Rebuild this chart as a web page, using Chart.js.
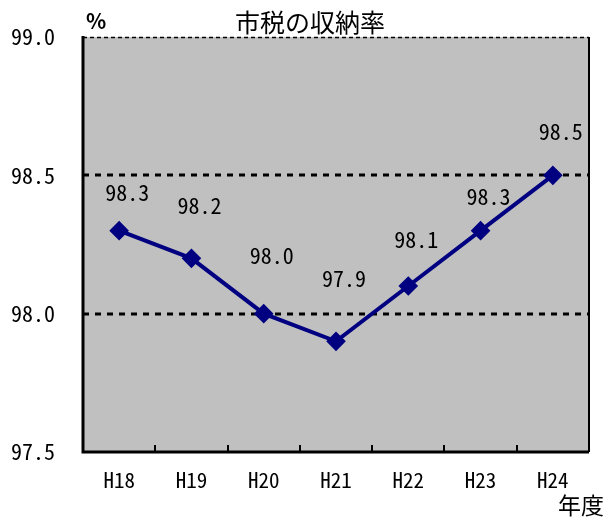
<!DOCTYPE html>
<html>
<head>
<meta charset="utf-8">
<script src="https://cdn.jsdelivr.net/npm/chart.js@4/dist/chart.umd.min.js"></script>
<style>
  html, body { margin: 0; padding: 0; background: #fff; }
  #wrap { width: 605px; height: 517px; }
</style>
</head>
<body>
<div id="wrap"><canvas id="c" width="605" height="517"></canvas></div>
<script>
// 市税の収納率（年度別）
const years = ['H18', 'H19', 'H20', 'H21', 'H22', 'H23', 'H24'];
const rates = [98.3, 98.2, 98.0, 97.9, 98.1, 98.3, 98.5];
const yTicks = [97.5, 98.0, 98.5, 99.0];

const MONO = '"Noto Sans Mono CJK JP", "DejaVu Sans Mono", monospace';
const FONT = '"Noto Sans CJK JP", "Noto Sans", sans-serif';
// vertical lift of each value label above its marker
const labelLift = [38, 53, 58, 63, 46, 34, 44];

const frame = {
  id: 'frame',
  beforeDatasetsDraw(chart) {
    const { ctx, chartArea: a, scales: { y } } = chart;
    ctx.save();
    ctx.fillStyle = '#c0c0c0';
    ctx.fillRect(a.left, a.top, a.right - a.left, a.bottom - a.top);
    // dashed gridlines
    ctx.strokeStyle = '#000';
    yTicks.forEach(v => {
      if (v === yTicks[0]) return;
      const top = v === yTicks[yTicks.length - 1];
      const py = Math.round(y.getPixelForValue(v)) + (top ? 0.5 : 0);
      ctx.lineWidth = top ? 1.5 : 3;
      ctx.setLineDash(top ? [4, 3] : [6, 6]);
      ctx.beginPath();
      ctx.moveTo(a.left, py);
      ctx.lineTo(a.right, py);
      ctx.stroke();
    });
    ctx.setLineDash([]);
    // right border
    ctx.lineWidth = 2;
    ctx.beginPath();
    ctx.moveTo(a.right, a.top);
    ctx.lineTo(a.right, a.bottom);
    ctx.stroke();
    // left border and x axis
    ctx.lineWidth = 3;
    ctx.beginPath();
    ctx.moveTo(a.left, a.top - 1);
    ctx.lineTo(a.left, a.bottom);
    ctx.lineTo(a.right, a.bottom);
    ctx.stroke();
    // category boundary ticks
    ctx.lineWidth = 2;
    const step = (a.right - a.left) / years.length;
    for (let i = 1; i < years.length; i++) {
      const px = Math.round(a.left + step * i);
      ctx.beginPath();
      ctx.moveTo(px, a.bottom);
      ctx.lineTo(px, a.bottom - 7);
      ctx.stroke();
    }
    ctx.restore();
  },
  afterDatasetsDraw(chart) {
    const { ctx, scales: { x, y } } = chart;
    ctx.save();
    ctx.fillStyle = '#000';
    ctx.textAlign = 'center';
    ctx.textBaseline = 'middle';
    ctx.font = '22px ' + MONO;
    rates.forEach((v, i) => {
      const px = x.getPixelForValue(i) + 8;
      const py = y.getPixelForValue(v) - labelLift[i];
      ctx.fillText(v.toFixed(1), px, py);
    });
    // title and unit captions
    ctx.font = '25px ' + FONT;
    ctx.fillText('市税の収納率', 310, 22);
    ctx.font = 'bold 21px ' + FONT;
    ctx.fillText('%', 96, 21);
    ctx.font = '23px ' + FONT;
    ctx.fillText('年度', 581, 505);
    ctx.restore();
  }
};

new Chart(document.getElementById('c'), {
  type: 'line',
  data: {
    labels: years,
    datasets: [{
      data: rates,
      borderColor: '#000080',
      backgroundColor: '#000080',
      borderWidth: 4,
      pointStyle: 'rectRot',
      pointRadius: 7,
      pointHoverRadius: 7,
      tension: 0
    }]
  },
  options: {
    responsive: false,
    animation: false,
    events: [],
    layout: { autoPadding: false, padding: { top: 37, right: 16, bottom: 0, left: 0 } },
    plugins: { legend: { display: false }, title: { display: false }, tooltip: { enabled: false } },
    scales: {
      x: {
        offset: true,
        grid: { display: false, drawTicks: false },
        border: { display: false },
        ticks: { color: '#000', padding: 15, font: { family: MONO, size: 21 } },
        afterFit(s) { s.height = 65; s.paddingLeft = 0; s.paddingRight = 0; }
      },
      y: {
        min: 97.5,
        max: 99.0,
        afterBuildTicks(s) { s.ticks = yTicks.map(v => ({ value: v })); },
        grid: { display: false, drawTicks: false },
        border: { display: false },
        ticks: {
          color: '#000',
          padding: 28,
          font: { family: MONO, size: 22 },
          callback: v => Number(v).toFixed(1)
        },
        afterFit(s) { s.width = 83; s.paddingTop = 0; s.paddingBottom = 0; }
      }
    }
  },
  plugins: [frame]
});
</script>
</body>
</html>
